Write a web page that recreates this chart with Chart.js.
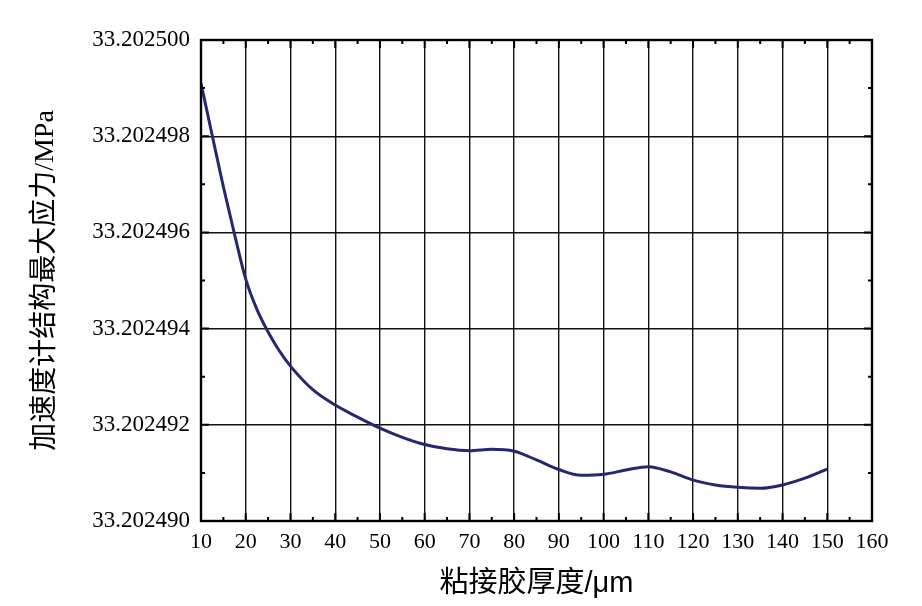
<!DOCTYPE html>
<html>
<head>
<meta charset="utf-8">
<script src="https://cdn.jsdelivr.net/npm/chart.js@4.4.1/dist/chart.umd.min.js"></script>
<style>
html,body{margin:0;padding:0;background:#fff;}
#wrap{width:922px;height:606px;position:relative;}
</style>
</head>
<body>
<div id="wrap"><canvas id="c" width="922" height="606"></canvas></div>
<script>
// data
const thickness = [10,12.5,15,17.5,20,22.5,25,27.5,30,35,40,45,50,55,60,65,70,75,80,85,90,95,100,105,110,115,120,125,130,135,140,145,150];
const stress = [33.20249910,33.20249802,33.20249695,33.20249596,33.20249503,33.20249440,33.20249393,33.20249354,33.20249322,33.20249273,33.20249241,33.20249216,33.20249193,33.20249174,33.20249159,33.20249150,33.20249146,33.20249149,33.20249145,33.20249127,33.20249107,33.20249095,33.20249097,33.20249106,33.20249113,33.20249102,33.20249085,33.20249075,33.20249070,33.20249068,33.20249075,33.20249089,33.20249108];
const xTicks = [10,20,30,40,50,60,70,80,90,100,110,120,130,140,150,160];
const yTicks = [33.202490,33.202492,33.202494,33.202496,33.202498,33.202500];
const xMinorTicks = [15,25,35,45,55,65,75,85,95,105,115,125,135,145,155];
const yMinorTicks = [33.202491,33.202493,33.202495,33.202497,33.202499];
const xTitle = '粘接胶厚度/μm';
const yTitle = '加速度计结构最大应力/MPa';

const frame = {
  id: 'frame',
  afterDatasetsDraw(chart) {
    const {ctx, chartArea: a, scales: {x, y}} = chart;
    ctx.save();
    ctx.strokeStyle = '#000';
    ctx.lineWidth = 2;
    ctx.beginPath();
    const seg = (x1,y1,x2,y2)=>{ctx.moveTo(x1,y1);ctx.lineTo(x2,y2);};
    xTicks.forEach(v=>{const p=x.getPixelForValue(v); seg(p,a.bottom,p,a.bottom-8); seg(p,a.top,p,a.top+8);});
    xMinorTicks.forEach(v=>{const p=x.getPixelForValue(v); seg(p,a.bottom,p,a.bottom-4); seg(p,a.top,p,a.top+4);});
    yTicks.forEach(v=>{const p=y.getPixelForValue(v); seg(a.left,p,a.left+8,p); seg(a.right,p,a.right-8,p);});
    yMinorTicks.forEach(v=>{const p=y.getPixelForValue(v); seg(a.left,p,a.left+4,p); seg(a.right,p,a.right-4,p);});
    ctx.stroke();
    ctx.lineWidth = 2.4;
    ctx.strokeRect(a.left, a.top, a.right-a.left, a.bottom-a.top);
    ctx.restore();
  }
};

new Chart(document.getElementById('c'), {
  type: 'line',
  data: {
    datasets: [{
      data: thickness.map((t,i)=>({x:t, y:stress[i]})),
      borderColor: '#25286e',
      borderWidth: 3,
      pointRadius: 0,
      cubicInterpolationMode: 'monotone',
      fill: false
    }]
  },
  options: {
    responsive: false,
    animation: false,
    devicePixelRatio: 1,
    layout: {padding: {top: 40, right: 50, left: 0, bottom: 0}},
    plugins: {legend: {display: false}, tooltip: {enabled: false}},
    scales: {
      x: {
        type: 'linear', min: 10, max: 160,
        afterBuildTicks: s => { s.ticks = xTicks.map(v=>({value:v})); },
        afterFit: s => { s.height = 85; },
        ticks: {color:'#000', font:{family:'"Liberation Serif"', size:22}, padding:8, maxRotation:0, autoSkip:false},
        grid: {color:'#111', lineWidth:1.4, drawTicks:false},
        border: {display:false},
        title: {display:true, text:xTitle, color:'#000', font:{family:'"Liberation Sans","Noto Sans CJK SC"', size:29}, padding:{bottom:5}}
      },
      y: {
        type: 'linear', min: 33.20249, max: 33.2025,
        afterBuildTicks: s => { s.ticks = yTicks.map(v=>({value:v})); },
        afterFit: s => { s.width = 201; },
        ticks: {color:'#000', font:{family:'"Liberation Serif"', size:23}, padding:11, autoSkip:false,
          callback: v => Number(v).toFixed(6)},
        grid: {color:'#111', lineWidth:1.4, drawTicks:false},
        border: {display:false},
        title: {display:true, text:yTitle, color:'#000', font:{family:'"Liberation Serif","Noto Sans CJK SC"', size:28}, padding:{top:29}}
      }
    }
  },
  plugins: [frame]
});
</script>
</body>
</html>
